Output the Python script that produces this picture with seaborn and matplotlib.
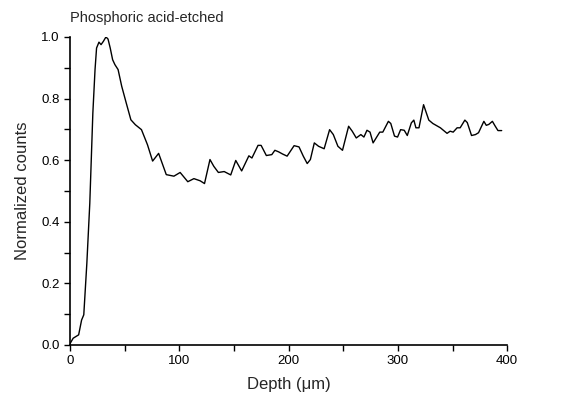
import numpy as np
import pandas as pd
import seaborn as sns
import matplotlib.pyplot as plt
from matplotlib.ticker import MultipleLocator

# depth (um) and normalized counts
depth = [0, 2.8, 7.8, 10.5, 12.5, 15.3, 18, 20.8, 22.8, 24.2, 26.4, 28.3, 30.5, 32.8,
         34.7, 36.7, 38.9, 41, 43.9, 47.2, 51.4, 55.6, 59.7, 65.3, 70.8, 75.5, 81,
         88, 95, 100.7, 107.7, 113.3, 119, 123, 128, 131.5, 135.7, 141, 147, 151.6,
         157, 163.6, 166.4, 172, 174.8, 179.6, 184.6, 187.4, 190.8, 194.4, 198.6,
         205, 209.5, 213.4, 217, 219.9, 223.5, 227.4, 232.5, 237.5, 240.9, 245.1,
         249.3, 254.9, 258.2, 261.9, 266.1, 268.9, 271.7, 274.5, 277.3, 283.4,
         286.2, 291.3, 293.5, 296.9, 299.7, 302.5, 305.8, 308.6, 312.3, 314.6,
         316.5, 319.3, 323.5, 325.5, 328.3, 332, 338.9, 345, 347.8, 350.6, 354.2,
         357, 361.3, 363.5, 367.4, 371, 373.8, 378.7, 380.9, 383.2, 386.5, 388.8,
         391.6, 395]
counts = [0.005, 0.022, 0.033, 0.081, 0.098, 0.265, 0.46, 0.753, 0.894, 0.964, 0.983,
          0.975, 0.986, 1.0, 0.993, 0.964, 0.926, 0.91, 0.894, 0.84, 0.785, 0.731,
          0.715, 0.699, 0.65, 0.597, 0.622, 0.553, 0.548, 0.56, 0.53, 0.54, 0.533,
          0.524, 0.602, 0.58, 0.56, 0.563, 0.552, 0.599, 0.565, 0.614, 0.607, 0.648,
          0.648, 0.615, 0.618, 0.632, 0.627, 0.62, 0.613,
          0.647, 0.643, 0.613, 0.589, 0.602, 0.656, 0.645, 0.637, 0.699, 0.683,
          0.645, 0.632, 0.71, 0.694, 0.672, 0.683, 0.675, 0.697, 0.691, 0.656,
          0.691, 0.691, 0.726, 0.719, 0.678, 0.675, 0.699, 0.697, 0.68, 0.721,
          0.73, 0.705, 0.705, 0.78, 0.759, 0.73, 0.719, 0.705, 0.687, 0.694, 0.691,
          0.705, 0.705, 0.73, 0.722, 0.68, 0.683, 0.689, 0.726, 0.713, 0.716, 0.726,
          0.712, 0.696, 0.696]

df = pd.DataFrame({"depth": depth, "counts": counts})

sns.set_style("ticks")
plt.rcParams['font.family'] = ['Liberation Sans', 'DejaVu Sans']

fig = plt.figure(figsize=(5.61, 3.97), dpi=100)
ax = fig.add_axes([0.125, 0.131, 0.779, 0.776])

sns.lineplot(data=df, x="depth", y="counts", color="black", linewidth=1.0, ax=ax)

ax.set_xlim(0, 400)
ax.set_ylim(0, 1.0)
ax.xaxis.set_major_locator(MultipleLocator(100))
ax.xaxis.set_minor_locator(MultipleLocator(50))
ax.yaxis.set_major_locator(MultipleLocator(0.2))
ax.yaxis.set_minor_locator(MultipleLocator(0.1))
ax.yaxis.set_major_formatter(plt.FormatStrFormatter('%.1f'))
ax.tick_params(which='both', direction='out', length=4, width=1, labelsize=9.5, colors='black')
sns.despine(ax=ax)
for s in ['left', 'bottom']:
    ax.spines[s].set_linewidth(1.2)
    ax.spines[s].set_color('black')

ax.set_xlabel("Depth (\u03bcm)", fontsize=12, labelpad=7)
ax.set_ylabel("Normalized counts", fontsize=12, labelpad=8)
ax.text(0.0, 1.04, "Phosphoric acid-etched", transform=ax.transAxes,
        fontsize=10.5, ha='left', va='bottom')

fig.savefig("out.png", dpi=100)
